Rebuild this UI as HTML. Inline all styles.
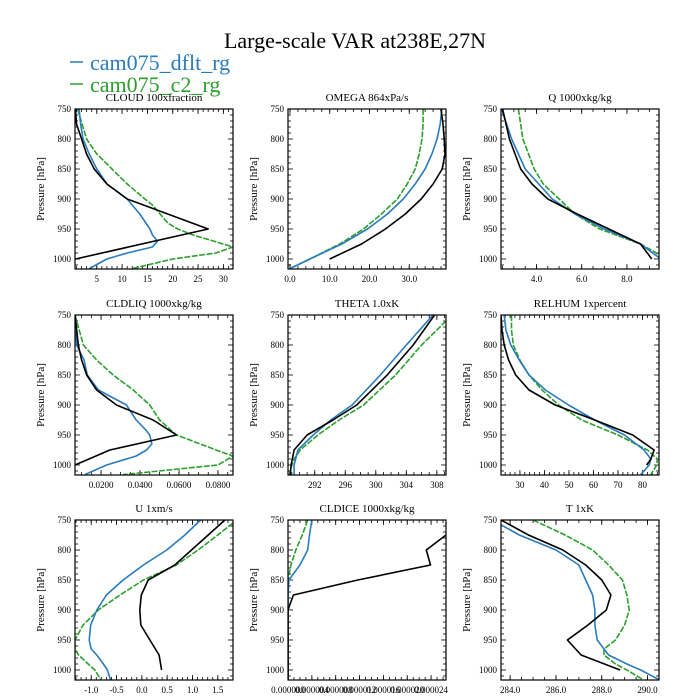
<!DOCTYPE html>
<html><head><meta charset="utf-8"><style>
body{margin:0;background:#fff;}
svg{display:block;font-family:"Liberation Serif",serif;}
</style></head><body>
<svg id="chart" width="700" height="700" viewBox="0 0 700 700">
<rect width="700" height="700" fill="#fff"/>
<text x="355" y="48" font-size="22" text-anchor="middle">Large-scale VAR at238E,27N</text>
<g>
<line x1="70" y1="62" x2="83" y2="62" stroke="#2a7bbd" stroke-width="1.5"/>
<text x="90" y="70" font-size="22" fill="#2a7bbd">cam075_dflt_rg</text>
<line x1="70" y1="84" x2="83" y2="84" stroke="#2ca02c" stroke-width="1.5"/>
<text x="90" y="92" font-size="22" fill="#2ca02c">cam075_c2_rg</text>
</g>
</svg>
<script>
// panel titles
const titles = ["CLOUD  100xfraction","OMEGA  864xPa/s","Q  1000xkg/kg","CLDLIQ  1000xkg/kg","THETA  1.0xK","RELHUM  1xpercent","U  1xm/s","CLDICE  1000xkg/kg","T  1xK"];
// x-axis ranges [min,max]
const xRanges = [[0.7,31.9],[-0.5,39.25],[2.43,9.42],[0.0066,0.0877],[288.5,309.2],[22.3,86.7],[-1.32,1.8],[0,0.0000265],[283.6,290.5]];
// x tick values
const xTicks = [[5,10,15,20,25,30],[0,10,20,30],[4,6,8],[0.02,0.04,0.06,0.08],[292,296,300,304,308],[30,40,50,60,70,80],[-1,-0.5,0,0.5,1,1.5],[0,0.000004,0.000008,0.000012,0.000016,0.00002,0.000024],[284,286,288,290]];
// x tick labels
const xTickLabels = [["5","10","15","20","25","30"],["0.0","10.0","20.0","30.0"],["4.0","6.0","8.0"],["0.0200","0.0400","0.0600","0.0800"],["292","296","300","304","308"],["30","40","50","60","70","80"],["-1.0","-0.5","0.0","0.5","1.0","1.5"],["0.000000","0.000004","0.000008","0.000012","0.000016","0.000020","0.000024"],["284.0","286.0","288.0","290.0"]];
const xMinor = [1,2,0.5,0.005,1,2,0.1,0.000001,0.5];

// series: each is [pressure, value] pairs
const obsCLOUD = [[750,0.8],[775,1],[800,2],[825,3],[850,4.5],[875,7],[900,11],[950,27],[1000,0.8]];
const dfltCLOUD = [[750,1.5],[775,1.8],[800,2.3],[825,3.5],[850,5],[875,7],[900,11],[925,13.5],[950,15.5],[960,16],[970,17],[980,16],[990,11],[1000,7],[1016,3.5]];
const c2CLOUD = [[750,1.2],[800,3],[825,5],[850,8],[875,11],[900,14.5],[910,16],[925,17.5],[940,19],[950,21],[960,24],[970,28],[980,31.9],[990,28.5],[1000,20],[1010,15],[1016,12]];

const obsOMEGA = [[750,38],[775,38.5],[800,38.8],[825,39],[850,38.3],[875,36],[900,33],[925,29],[950,24],[975,18],[1000,10]];
const dfltOMEGA = [[750,38.2],[775,37.8],[800,37],[825,35.7],[850,34],[875,31.5],[900,28.5],[925,24.5],[950,19.5],[975,13],[1000,5],[1016,0]];
const c2OMEGA = [[750,33.5],[775,33.5],[800,33.2],[825,32.5],[850,31.5],[875,29.5],[900,27],[925,23],[950,18.5],[975,12.5],[1000,5],[1016,0]];

const obsQ = [[750,2.5],[800,2.8],[850,3.3],[875,3.8],[900,4.5],[925,5.8],[950,7.2],[975,8.6],[1000,9.1]];
const dfltQ = [[750,2.45],[800,2.9],[850,3.5],[900,4.7],[925,5.7],[950,7.0],[975,8.6],[1000,9.5],[1016,9.7]];
const c2Q = [[750,3.2],[800,3.4],[850,3.9],[875,4.3],[900,5],[925,5.7],[950,6.8],[975,8.6],[990,9.3],[1000,9.6],[1016,9.8]];

const obsCLDLIQ = [[750,0.0066],[800,0.0083],[825,0.010],[850,0.0126],[875,0.0177],[900,0.0279],[925,0.0467],[950,0.0587],[975,0.0245],[1000,0.0066]];
const dfltCLDLIQ = [[750,0.0066],[800,0.0074],[825,0.0112],[850,0.0129],[875,0.0186],[900,0.033],[925,0.038],[940,0.0425],[950,0.045],[965,0.046],[975,0.0433],[985,0.038],[1000,0.0228],[1016,0.0117]];
const c2CLDLIQ = [[750,0.0066],[800,0.0109],[825,0.0177],[850,0.0262],[875,0.0365],[900,0.045],[925,0.050],[950,0.0587],[975,0.079],[985,0.0877],[1000,0.080],[1016,0.0314]];

const obsTHETA = [[750,307.7],[800,304.9],[850,301.5],[900,297.5],[925,294.4],[950,291],[975,289.3],[1000,288.9],[1016,288.8]];
const dfltTHETA = [[750,307.5],[800,304],[850,300.6],[900,296.9],[925,294.1],[950,291.8],[975,289.8],[1000,289.3],[1016,289.3]];
const c2THETA = [[760,309.2],[800,306],[850,302.6],[900,298.4],[925,295.2],[950,292.4],[975,290.1],[990,289.3],[1000,289],[1016,288.7]];

const obsRELHUM = [[750,22.3],[775,22.7],[800,23.6],[825,25.4],[850,28.3],[875,33.7],[900,44.4],[925,60.5],[950,76],[975,84.7],[990,83.4],[1000,81.7]];
const dfltRELHUM = [[750,23.6],[775,24.3],[800,26.3],[825,29.7],[850,33.7],[875,40.4],[900,49.8],[925,60.5],[950,72.6],[975,80.6],[990,83.4],[1000,82.7],[1016,79.3]];
const c2RELHUM = [[750,26.6],[775,26.6],[800,27.3],[825,30],[850,33.7],[875,39],[900,45.8],[925,55.2],[950,70],[975,82],[990,86],[1000,85.8],[1016,83.4]];

const obsU = [[750,1.64],[775,1.31],[800,0.98],[825,0.65],[850,0.125],[875,-0.01],[900,-0.04],[925,-0.02],[950,0.16],[975,0.34],[1000,0.39]];
const dfltU = [[750,1.16],[775,0.85],[800,0.49],[825,0.03],[850,-0.37],[875,-0.70],[900,-0.89],[925,-1.01],[950,-1.04],[965,-1.0],[975,-0.89],[990,-0.76],[1000,-0.68],[1016,-0.62]];
const c2U = [[755,1.8],[775,1.5],[800,1.11],[825,0.68],[850,0.03],[875,-0.43],[900,-0.86],[925,-1.16],[950,-1.32],[965,-1.32],[975,-1.25],[990,-1.06],[1000,-0.93],[1016,-0.81]];

const obsCLDICE = [[775,0.0000265],[800,0.0000232],[825,0.0000239],[850,0.0000117],[875,0.0000009],[900,0],[1016,0]];
const dfltCLDICE = [[750,0.000004],[775,0.0000036],[800,0.0000033],[825,0.000002],[850,0.00000015],[875,0],[1016,0]];
const c2CLDICE = [[750,0.0000033],[775,0.0000024],[800,0.0000013],[825,0.0000005],[850,0],[1016,0]];

const obsT = [[750,283.6],[775,284.8],[800,286.3],[825,287.3],[850,288.0],[875,288.4],[900,288.2],[925,287.4],[950,286.5],[975,287.1],[1000,288.8]];
const dfltT = [[758,283.6],[775,284.4],[800,286.0],[825,287.0],[850,287.3],[875,287.6],[900,287.7],[925,287.7],[950,287.8],[965,288.1],[975,288.3],[990,289.1],[1000,289.7],[1016,290.5]];
const c2T = [[750,285.0],[775,286.4],[800,287.6],[825,288.3],[850,288.9],[875,289.1],[900,289.2],[925,289.0],[950,288.6],[965,288.1],[975,288.1],[990,288.6],[1000,289.1],[1016,289.8]];

const obsSeries = [obsCLOUD,obsOMEGA,obsQ,obsCLDLIQ,obsTHETA,obsRELHUM,obsU,obsCLDICE,obsT];
const dfltSeries = [dfltCLOUD,dfltOMEGA,dfltQ,dfltCLDLIQ,dfltTHETA,dfltRELHUM,dfltU,dfltCLDICE,dfltT];
const c2Series = [c2CLOUD,c2OMEGA,c2Q,c2CLDLIQ,c2THETA,c2RELHUM,c2U,c2CLDICE,c2T];

const NS="http://www.w3.org/2000/svg";
const svg=document.getElementById('chart');
const colLeft=[75,288,501], rowTop=[109,315,520], W=158, H=160, PMIN=750, PMAX=1016.7;
function mk(tag,attrs,parent){const e=document.createElementNS(NS,tag);for(const k in attrs)e.setAttribute(k,attrs[k]);parent.appendChild(e);return e;}
const slug=t=>t.split(' ')[0].toLowerCase();

for(let i=0;i<9;i++){
  const L=colLeft[i%3], T=rowTop[Math.floor(i/3)], [xmin,xmax]=xRanges[i];
  const xs=v=>L+(v-xmin)/(xmax-xmin)*W;
  const ys=p=>T+(p-PMIN)/(PMAX-PMIN)*H;
  const g=mk('g',{},svg);
  
  
  const clipId='clip'+i;
  const cp=mk('clipPath',{id:clipId},g);mk('rect',{x:L,y:T,width:W,height:H},cp);
  const tt=mk('text',{x:L+W/2,y:T-8,'font-size':11,'text-anchor':'middle'},g);tt.textContent=titles[i];
  
  
  const yl=mk('text',{x:0,y:0,'font-size':11,'text-anchor':'middle',transform:`translate(${L-31},${T+H/2}) rotate(-90)`},g);yl.textContent='Pressure [hPa]';
  
  
  for(let p=750;p<=1010;p+=10){
    const y=ys(p), major=(p%50===0), len=major?5:3;
    mk('line',{x1:L,y1:y,x2:L+len,y2:y,stroke:'#000','stroke-width':0.8},g);
    mk('line',{x1:L+W,y1:y,x2:L+W-len,y2:y,stroke:'#000','stroke-width':0.8},g);
    if(major){const t=mk('text',{x:L-4,y:y+3,'font-size':9,'text-anchor':'end'},g);t.textContent=p;
      
      }
  }
  const m=xMinor[i];
  for(let v=Math.ceil(xmin/m)*m; v<=xmax+1e-12; v+=m){
    const x=xs(v);
    mk('line',{x1:x,y1:T+H,x2:x,y2:T+H-3,stroke:'#000','stroke-width':0.8},g);
    mk('line',{x1:x,y1:T,x2:x,y2:T+3,stroke:'#000','stroke-width':0.8},g);
  }
  xTicks[i].forEach((v,j)=>{
    const x=xs(v);
    mk('line',{x1:x,y1:T+H,x2:x,y2:T+H-5,stroke:'#000','stroke-width':0.8},g);
    mk('line',{x1:x,y1:T,x2:x,y2:T+5,stroke:'#000','stroke-width':0.8},g);
    const t=mk('text',{x:x,y:T+H+13,'font-size':9,'text-anchor':'middle'},g);t.textContent=xTickLabels[i][j];
    
    
  });
  const defs=[[c2Series[i],'#2ca02c','6,1.5','series-c2'],[dfltSeries[i],'#2a7bbd','','series-dflt'],[obsSeries[i],'#000','','series-obs']];
  defs.forEach(([d,c,dash,name])=>{
    const pl=mk('polyline',{points:d.map(([p,v])=>xs(v).toFixed(1)+','+ys(p).toFixed(1)).join(' '),fill:'none',stroke:c,'stroke-width':1.6,'stroke-dasharray':dash,'clip-path':`url(#${clipId})`,'stroke-linejoin':'round'},g);
    
    
  });
  const fr=mk('rect',{x:L,y:T,width:W,height:H,fill:'none',stroke:'#000','stroke-width':1.2},g);
  
  
}
</script>
</body></html>
